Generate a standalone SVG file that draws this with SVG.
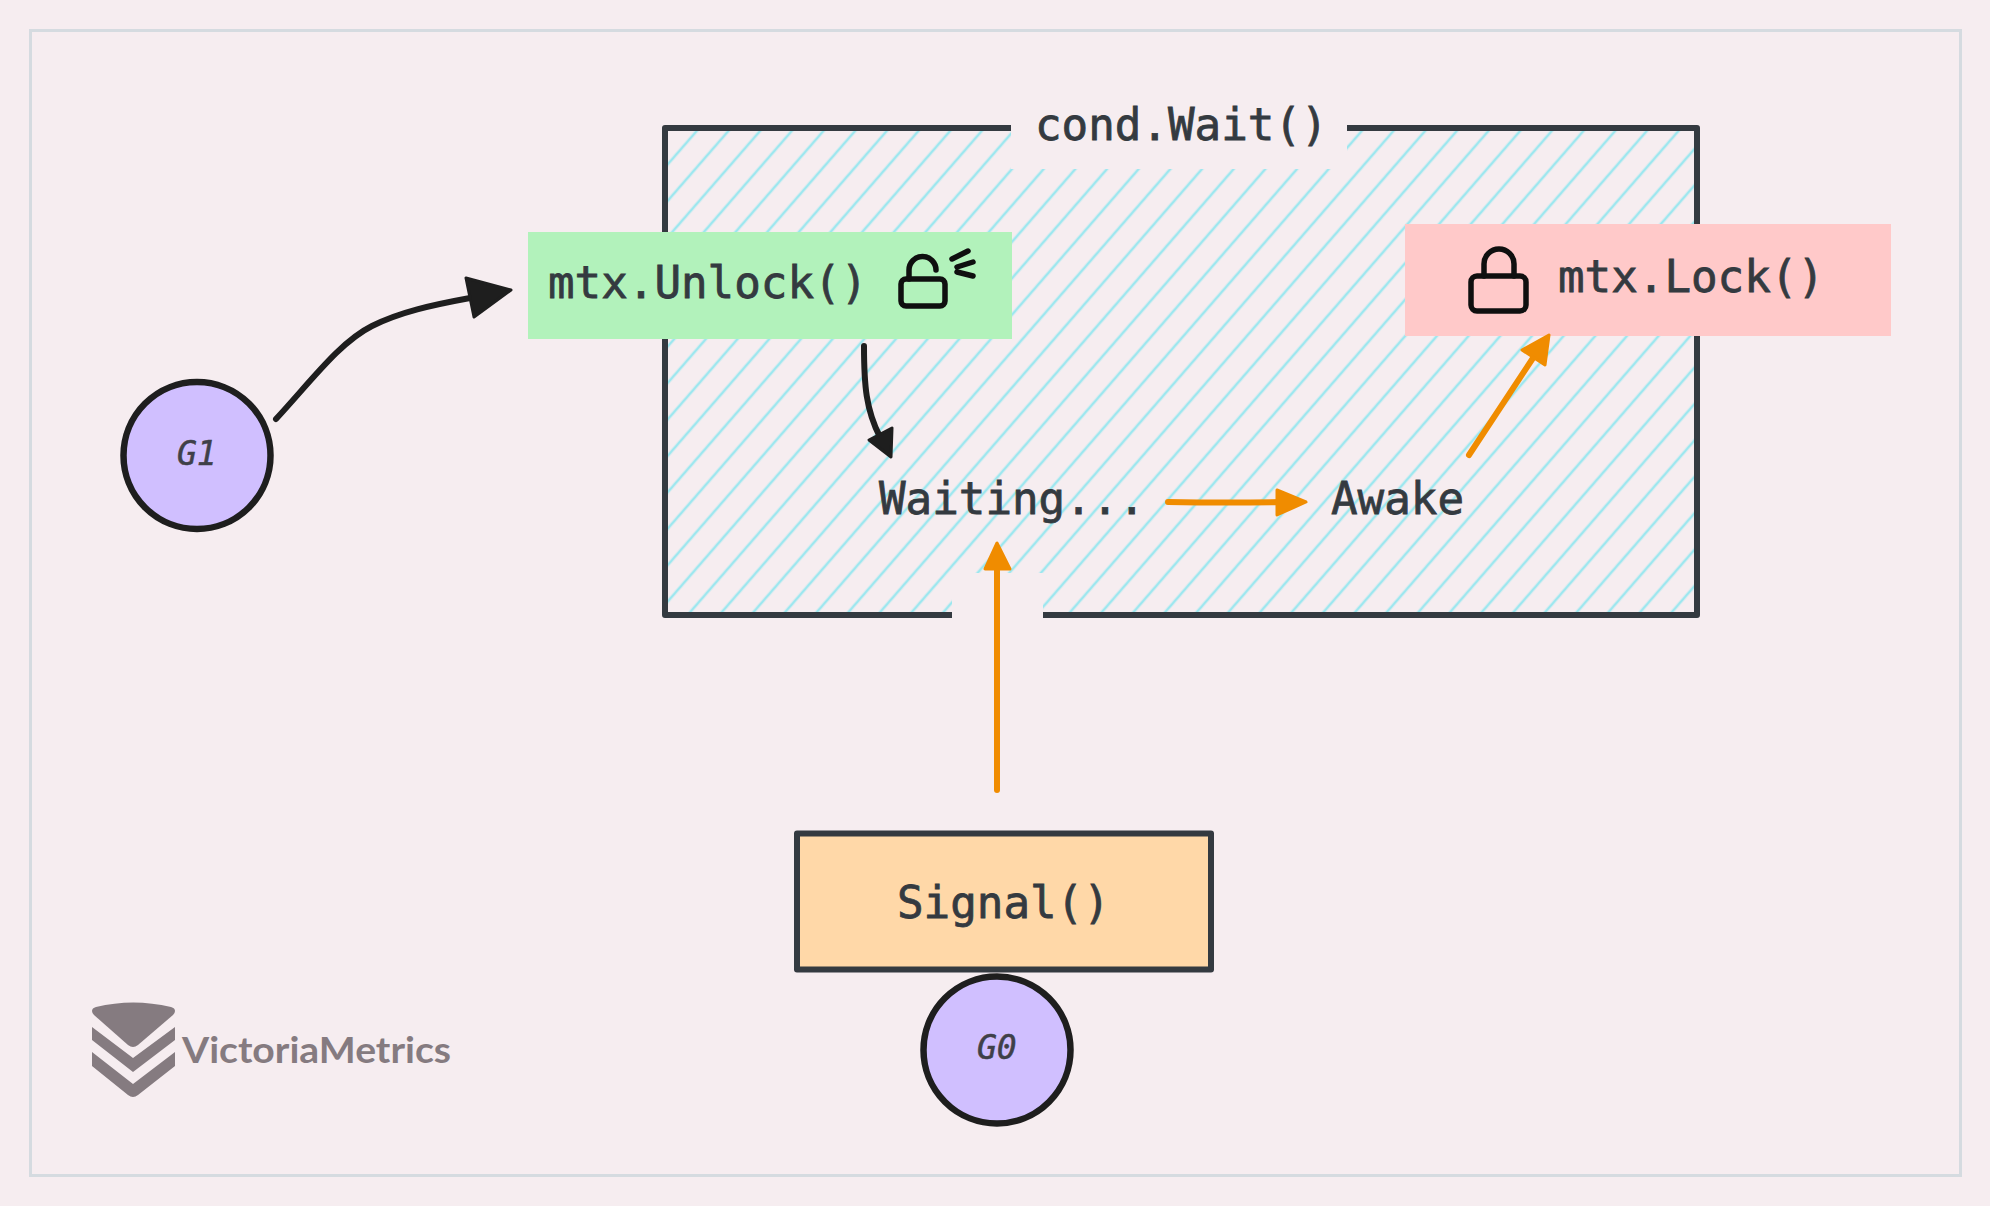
<svg xmlns="http://www.w3.org/2000/svg" width="1990" height="1206" viewBox="0 0 1990 1206">
<style>
.t{font-family:"DejaVu Sans Mono","Liberation Mono",monospace;font-size:44.2px;fill:#343a40;stroke:#343a40;stroke-width:.8}
.g{font-family:"DejaVu Sans Mono","Liberation Mono",monospace;font-size:33px;font-style:italic;fill:#3f4048;stroke:#3f4048;stroke-width:.5}
.cir{fill:#d0bfff;stroke:#1e1e1e;stroke-width:6.500}
.ic{fill:none;stroke:#0f0f0f;stroke-width:5.500;stroke-linecap:round;stroke-linejoin:round}
.k{fill:none;stroke:#1e1e1e;stroke-width:6;stroke-linecap:round}
.kh{fill:#1e1e1e;stroke:#1e1e1e;stroke-width:3;stroke-linejoin:round}
.o{fill:none;stroke:#f08c00;stroke-width:6;stroke-linecap:round}
.oh{fill:#f08c00;stroke:#f08c00;stroke-width:3;stroke-linejoin:round}
.bg{fill:#f6edf0}
.logo{fill:#857b80}
</style>
<defs>
<pattern id="hatch" patternUnits="userSpaceOnUse" width="23.9" height="20" patternTransform="translate(1012 169) rotate(41)">
<rect x="-1.3" y="0" width="2.6" height="20" fill="#9de7ef"/>
<rect x="22.6" y="0" width="2.6" height="20" fill="#9de7ef"/>
</pattern>
</defs>
<rect class="bg" x="0" y="0" width="1990" height="1206"/>
<rect x="30.5" y="30.5" width="1930" height="1145" fill="none" stroke="#d5dbe0" stroke-width="3"/>
<g id="cond-wait">
<rect x="665" y="128" width="1032" height="487" fill="url(#hatch)"/>
<rect class="bg" x="1011" y="118" width="336" height="51"/>
<rect class="bg" x="952" y="573" width="91" height="48"/>
<path d="M1011 128H665V615H952M1043 615H1697V128H1347" fill="none" stroke="#343a40" stroke-width="6" stroke-linejoin="round"/>
<text class="t" x="1035" y="140">cond.Wait()</text>
</g>
<g id="unlock">
<rect x="528" y="232" width="484" height="107" fill="#b2f2bb"/>
<text class="t" x="548" y="298">mtx.Unlock()</text>
<rect class="ic" x="901" y="279" width="44" height="27" rx="5"/>
<path class="ic" d="M909 279V270a13.500 13.500 0 0 1 27 0M952 259L968 251M957 267L973 262M957 272L973 276"/>
</g>
<g id="lock">
<rect x="1405" y="224" width="486" height="112" fill="#ffc9c9"/>
<rect class="ic" x="1471" y="276" width="55" height="35" rx="6"/>
<path class="ic" d="M1484 276V264a15 15 0 0 1 30 0V276"/>
<text class="t" x="1558" y="292">mtx.Lock()</text>
</g>
<g id="waiting"><text class="t" x="879" y="514">Waiting...</text></g>
<g id="awake"><text class="t" x="1331" y="514">Awake</text></g>
<g id="signal">
<rect x="797" y="833.500" width="414" height="136" fill="#ffd8a8" stroke="#343a40" stroke-width="6" stroke-linejoin="round"/>
<text class="t" x="897" y="918">Signal()</text>
</g>
<g id="g1">
<circle class="cir" cx="197" cy="455.500" r="73.500"/>
<text class="g" x="177" y="465">G1</text>
</g>
<g id="g0">
<circle class="cir" cx="997" cy="1050" r="73.500"/>
<text class="g" x="977" y="1059">G0</text>
</g>
<g id="connectors">
<path class="k" d="M276 419C312 380 340 342 372 326C400 312 432 305 470 298"/>
<path class="kh" d="M466 278L511 290L474 317Z"/>
<path class="k" d="M864 346C864 385 866 410 880 437"/>
<path class="kh" d="M869 440L892 428L891 457Z"/>
<path class="o" d="M1168 502Q1230 503 1285 502"/>
<path class="oh" d="M1306 502L1277 490V515Z"/>
<path class="o" d="M1469 455L1535 355"/>
<path class="oh" d="M1549 335L1522 350L1545 365Z"/>
<path class="o" d="M997 790V565"/>
<path class="oh" d="M997 543L985 569H1010Z"/>
</g>
<g id="logo">
<path class="logo" d="M92 1011Q92 1008 96 1007Q133 998 171 1007Q175 1008 175 1011Q175 1013 173 1015L138 1045Q133 1049 128 1045L94 1015Q92 1013 92 1011Z"/>
<path class="logo" d="M92 1027L133 1058L175 1027V1040L133 1072L92 1040Z"/>
<path class="logo" d="M92 1052L133 1084L175 1052V1066L138 1095Q133 1099 128 1095L92 1066Z"/>
<text x="182" y="1063" font-family="Lato,sans-serif" font-weight="700" font-size="37" fill="#857b80" textLength="269" lengthAdjust="spacingAndGlyphs">VictoriaMetrics</text>
</g>
</svg>
